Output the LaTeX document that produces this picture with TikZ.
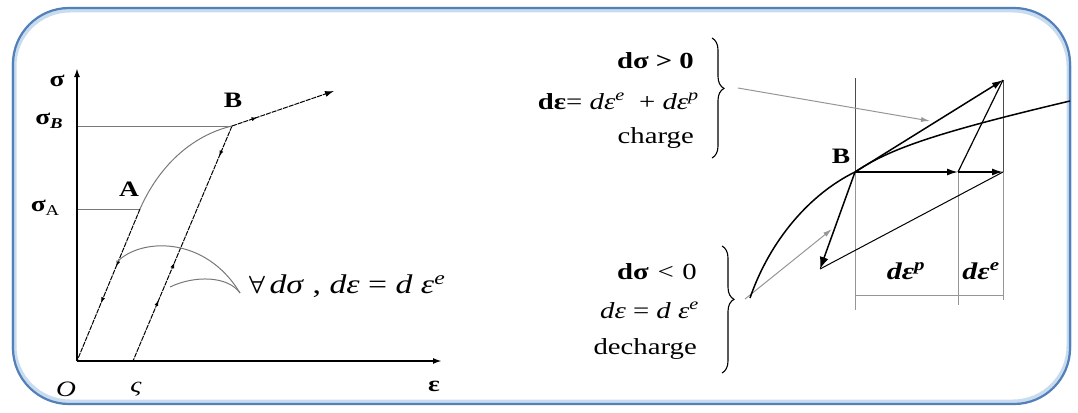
\documentclass[tikz,border=0pt]{standalone}
\usepackage{fontspec}
\setmainfont{Liberation Serif}[FakeStretch=1.25]
\usetikzlibrary{arrows.meta,decorations.markings,decorations.pathreplacing,calc}
\definecolor{frameblue}{RGB}{84,128,186}
\definecolor{glowblue}{RGB}{200,220,240}
\definecolor{curvegray}{RGB}{120,120,120}
\definecolor{thingray}{RGB}{150,150,150}
\tikzset{
  axisline/.style={line width=2.2pt,-{Latex[length=9pt,width=6pt]}},
  dashline/.style={line width=1pt,dash pattern=on 5pt off 1pt},
  guide/.style={draw=curvegray,line width=1pt},
  midarr/.style={postaction={decorate,decoration={markings,mark=at position #1 with {\arrow{Latex[length=6pt,width=4pt]}}}}},
  midrev/.style={postaction={decorate,decoration={markings,mark=at position #1 with {\arrowreversed{Latex[length=6pt,width=4pt]}}}}},
  thick arrow/.style={line width=1.5pt,-{Latex[length=11pt,width=7pt]}},
  lbl/.style={inner sep=1pt,font=\fontsize{22}{26}\selectfont},
  rtext/.style={inner sep=1pt,anchor=east,font=\fontsize{23}{27}\selectfont},
  grayarrow/.style={draw=thingray,line width=1pt,-{Latex[length=9pt,width=5pt]}},
  bracedeco/.style={decorate,line width=1.1pt,decoration={brace,amplitude=12pt,aspect=#1}}
}
\begin{document}
\begin{tikzpicture}[x=1pt,y=-1pt]
\useasboundingbox (0,0) rectangle (1078,412);
% frame
\draw[glowblue,line width=5pt,rounded corners=56pt] (14,10) rectangle (1069,402);
\draw[frameblue,line width=2.2pt,rounded corners=56pt] (13,8) rectangle (1070,404);

% ---------- left diagram ----------
\coordinate (O) at (77,361);
\coordinate (Ytop) at (77,68);
\coordinate (Xend) at (442,361);
\coordinate (A) at (140,209);
\coordinate (B) at (232,126);
\coordinate (C) at (133,361);
\coordinate (Bdir) at (334,91);
\coordinate (SB) at (77,126);
\coordinate (SA) at (77,209);
\coordinate (arcA) at (117,262);
\coordinate (arcB) at (170,287);
\coordinate (arcTip) at (240,293);

\draw[guide] (SB) -- (B);
\draw[guide] (SA) -- (A);
\draw[axisline] (O) -- (Ytop);
\draw[axisline] (O) -- (Xend);
\draw[dashline,midarr=0.62,midarr=0.38] (A) -- (O);
\draw[dashline,midarr=0.13,midrev=0.58,midrev=0.74] (B) -- (C);
\draw[guide] (A) .. controls (158,168) and (190,136) .. (B);
\draw[dashline,midarr=0.25,-{Latex[length=9pt,width=6pt]}] (B) -- (Bdir);
\draw[guide] (arcA) .. controls (140,238) and (205,235) .. (arcTip);
\draw[guide] (arcB) .. controls (195,275) and (228,276) .. (arcTip);

\node[lbl] (lsig) at (57,81) {\textbf{σ}};
\node[lbl] (lsigB) at (49,121) {\textbf{σ}\raisebox{-0.45ex}{\fontsize{15}{17}\selectfont\textbf{\textit{B}}}};
\node[lbl] (lsigA) at (45,208) {\textbf{σ}\raisebox{-0.45ex}{\fontsize{15}{17}\selectfont A}};
\node[lbl] (lA) at (129,189) {\textbf{A}};
\node[lbl] (lB) at (233,100) {\textbf{B}};
\node[lbl] (lO) at (66,389) {\textit{O}};
\node[lbl] (lC) at (136,389) {\textit{ς}};
\node[lbl] (leps) at (434,386) {\textbf{ε}};
\node[inner sep=1pt,anchor=west,font=\fontsize{27}{31}\selectfont] (lform) at (248,286) {{\boldmath$\forall$}\,\textit{dσ} , \textit{dε} = \textit{d} \textit{ε}\textsuperscript{\textit{e}}};

% ---------- text blocks ----------
\node[rtext] (t1) at (695,61) {\textbf{dσ > 0}};
\node[rtext] (t2) at (700,101) {\textbf{dε}=\ \textit{dε}\textsuperscript{\textit{e}}\ \ +\ \textit{dε}\textsuperscript{\textit{p}}};
\node[rtext] (t3) at (695,138) {charge};
\node[rtext] (t4) at (698,272) {\textbf{dσ} \textit{<} 0};
\node[rtext] (t5) at (700,310) {\textit{dε} = \textit{d ε}\textsuperscript{\textit{e}}};
\node[rtext] (t6) at (698,349) {decharge};

\coordinate (br1a) at (712,38);
\coordinate (br1b) at (712,158);
\coordinate (br1tip) at (738,88);
\coordinate (br2a) at (722,246);
\coordinate (br2b) at (722,373);
\coordinate (br2tip) at (745,299);
\draw[bracedeco=0.42] (br1a) -- (br1b);
\draw[bracedeco=0.42] (br2a) -- (br2b);

% ---------- right diagram ----------
\coordinate (RB) at (855,172);
\coordinate (RT) at (1003,80);
\coordinate (RM) at (958,172);
\coordinate (RR) at (1003,172);
\coordinate (RQ) at (820,269);
\coordinate (cLow) at (750,298);
\coordinate (cHigh) at (1070,101);
\coordinate (v1t) at (855,78);
\coordinate (v1b) at (855,310);
\coordinate (v2b) at (958,305);
\coordinate (v3b) at (1003,300);
\coordinate (d1) at (855,295);
\coordinate (d2) at (1003,295);
\coordinate (g1end) at (930,121);
\coordinate (g2end) at (832,229);

\draw[thingray,line width=0.9pt] (v1t) -- (v1b);
\draw[thingray,line width=0.9pt] (RM) -- (v2b);
\draw[thingray,line width=0.9pt] (RT) -- (v3b);
\draw[thingray,line width=0.9pt] (d1) -- (d2);
\draw[black!70,line width=0.9pt] (v1t) -- (RB);
\draw[black!70,line width=0.9pt] (RT) -- (RR);

\draw[grayarrow] (br1tip) -- (g1end);
\draw[grayarrow] (br2tip) -- (g2end);

\draw[line width=1.5pt] (cLow) .. controls (770,240) and (810,194) .. (RB)
   .. controls (888,150) and (930,134) .. (cHigh);
\draw[thick arrow] (RB) -- (RT);
\draw[thick arrow] (RB) -- (RM);
\draw[thick arrow] (RM) -- (RR);
\draw[line width=1.2pt] (RM) -- (RT);
\draw[line width=1pt] (RQ) -- (RR);
\draw[line width=1.5pt,-{Latex[length=12pt,width=9pt]}] (RB) -- (RQ);

\node[lbl] (rB) at (841,156) {\textbf{B}};
\node[inner sep=1pt,font=\fontsize{24}{28}\selectfont] (rdp) at (906,271) {\textbf{\textit{dε}}\textsuperscript{\textbf{\textit{p}}}};
\node[inner sep=1pt,font=\fontsize{24}{28}\selectfont] (rde) at (981,271) {\textbf{\textit{dε}}\textsuperscript{\textbf{\textit{e}}}};
\end{tikzpicture}
\end{document}
